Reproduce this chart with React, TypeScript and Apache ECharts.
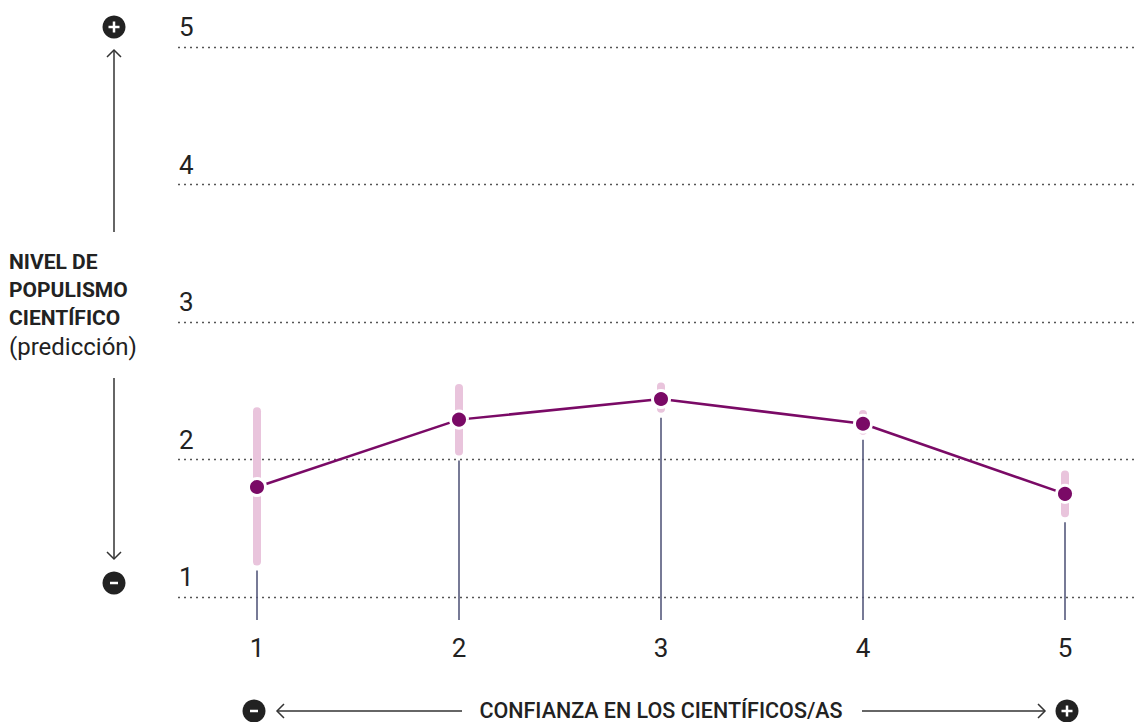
import React, { useEffect, useRef } from "react";
import * as echarts from "echarts";

const categories = [1, 2, 3, 4, 5];
const predicted = [1.8, 2.29, 2.44, 2.26, 1.75];
const ciLow = [1.23, 2.03, 2.34, 2.18, 1.58];
const ciHigh = [2.38, 2.55, 2.56, 2.36, 1.92];
const yTicks = [1, 2, 3, 4, 5];
const yLabelLines = ["NIVEL DE", "POPULISMO", "CIENTÍFICO"];
const yLabelSub = "(predicción)";
const xTitle = "CONFIANZA EN LOS CIENTÍFICOS/AS";

const PURPLE = "#7a0a66";
const PINK = "#e9c4dc";
const STEM = "#55597c";
const INK = "#222222";
const FONT = "Roboto, 'Noto Sans', sans-serif";

function circleIcon(cx: number, cy: number, plus: boolean) {
  const children: any[] = [
    { type: "circle", shape: { cx, cy, r: 11.5 }, style: { fill: INK } },
  ];
  if (plus) {
    children.push({ type: "rect", shape: { x: cx - 5.5, y: cy - 1.25, width: 11, height: 2.5 }, style: { fill: "#fff" } });
    children.push({ type: "rect", shape: { x: cx - 1.25, y: cy - 5.5, width: 2.5, height: 11 }, style: { fill: "#fff" } });
  } else {
    children.push({ type: "rect", shape: { x: cx - 4, y: cy - 1.25, width: 8, height: 2.5 }, style: { fill: "#fff" } });
  }
  return { type: "group", children };
}

function arrowLine(x1: number, y1: number, x2: number, y2: number) {
  const dx = x2 - x1, dy = y2 - y1;
  const len = Math.sqrt(dx * dx + dy * dy);
  const ux = dx / len, uy = dy / len;
  const h = 7;
  const p1 = [x2 - ux * h - uy * h, y2 - uy * h + ux * h];
  const p2 = [x2 - ux * h + uy * h, y2 - uy * h - ux * h];
  const st = { stroke: "#333", lineWidth: 1.5, fill: "none" };
  return [
    { type: "line", shape: { x1, y1, x2, y2 }, style: st },
    { type: "polyline", shape: { points: [p1, [x2, y2], p2] }, style: st },
  ];
}

export default function App() {
  const ref = useRef<HTMLDivElement>(null);
  useEffect(() => {
    if (!ref.current) return;
    const chart = echarts.init(ref.current, undefined, { renderer: "svg" });

    const pointData = categories.map((c, i) => [c, predicted[i]]);
    const ciData = categories.map((c, i) => [c, ciLow[i], ciHigh[i]]);

    const graphics: any[] = [
      circleIcon(114, 27, true),
      ...arrowLine(114, 232, 114, 50),
      ...arrowLine(114, 378, 114, 559),
      circleIcon(114, 583, false),
      circleIcon(254, 711, false),
      ...arrowLine(462, 711, 277, 711),
      ...arrowLine(862, 711, 1045, 711),
      circleIcon(1067, 711, true),
      {
        type: "text",
        x: 661,
        y: 721,
        style: {
          text: xTitle,
          font: `500 21.5px ${FONT}`,
          fill: INK,
          align: "center",
          verticalAlign: "bottom",
        },
      },
      ...yLabelLines.map((t, i) => ({
        type: "text",
        x: 9,
        y: 262 + i * 28,
        style: {
          text: t,
          font: `bold 21px ${FONT}`,
          fill: INK,
          align: "left",
          verticalAlign: "middle",
        },
      })),
      {
        type: "text",
        x: 9,
        y: 347,
        style: {
          text: yLabelSub,
          font: `400 24px ${FONT}`,
          fill: INK,
          align: "left",
          verticalAlign: "middle",
        },
      },
    ];

    chart.setOption({
      animation: false,
      textStyle: { fontFamily: FONT },
      grid: { left: 178, right: 0, top: 47, bottom: 722 - 597 },
      xAxis: {
        type: "value",
        min: 1 - 79 / 202,
        max: 5 + 69 / 202,
        axisLine: { show: false },
        axisTick: { show: false },
        splitLine: { show: false },
        axisLabel: {
          customValues: categories,
          fontSize: 26,
          color: INK,
          margin: 51,
          verticalAlign: "middle",
          formatter: (v: number) => String(v),
        },
      },
      yAxis: {
        type: "value",
        min: 1,
        max: 5,
        interval: 1,
        axisLine: { show: false },
        axisTick: { show: false },
        axisLabel: {
          inside: true,
          margin: 1,
          fontSize: 26,
          color: INK,
          verticalAlign: "bottom",
          lineHeight: 40,
          formatter: (v: number) => (yTicks.includes(v) ? String(v) : ""),
        },
        splitLine: { lineStyle: { type: [2, 4], color: "#555", width: 1.3 } },
      },
      graphic: graphics,
      series: [
        {
          type: "custom",
          name: "stems",
          z: 1,
          clip: false,
          data: ciData,
          renderItem: (params: any, api: any) => {
            const top = api.coord([api.value(0), api.value(1)]);
            const base = api.coord([api.value(0), 1]);
            return {
              type: "line",
              shape: { x1: top[0], y1: top[1] + 5, x2: base[0], y2: base[1] + 23 },
              style: { stroke: STEM, lineWidth: 1.6 },
            };
          },
        },
        {
          type: "custom",
          name: "ci",
          z: 2,
          data: ciData,
          renderItem: (params: any, api: any) => {
            const lo = api.coord([api.value(0), api.value(1)]);
            const hi = api.coord([api.value(0), api.value(2)]);
            return {
              type: "rect",
              shape: { x: lo[0] - 4, y: hi[1], width: 8, height: lo[1] - hi[1], r: 4 },
              style: { fill: PINK },
            };
          },
        },
        {
          type: "line",
          name: "predicción",
          z: 3,
          data: pointData,
          symbol: "circle",
          symbolSize: 17,
          lineStyle: { color: PURPLE, width: 2.5 },
          itemStyle: { color: PURPLE, borderColor: "#fff", borderWidth: 3 },
        },
      ],
    });
    return () => chart.dispose();
  }, []);
  return (
    <div
      ref={ref}
      style={{ position: "fixed", left: 0, top: 0, width: 1134, height: 722, background: "#fff" }}
    />
  );
}
